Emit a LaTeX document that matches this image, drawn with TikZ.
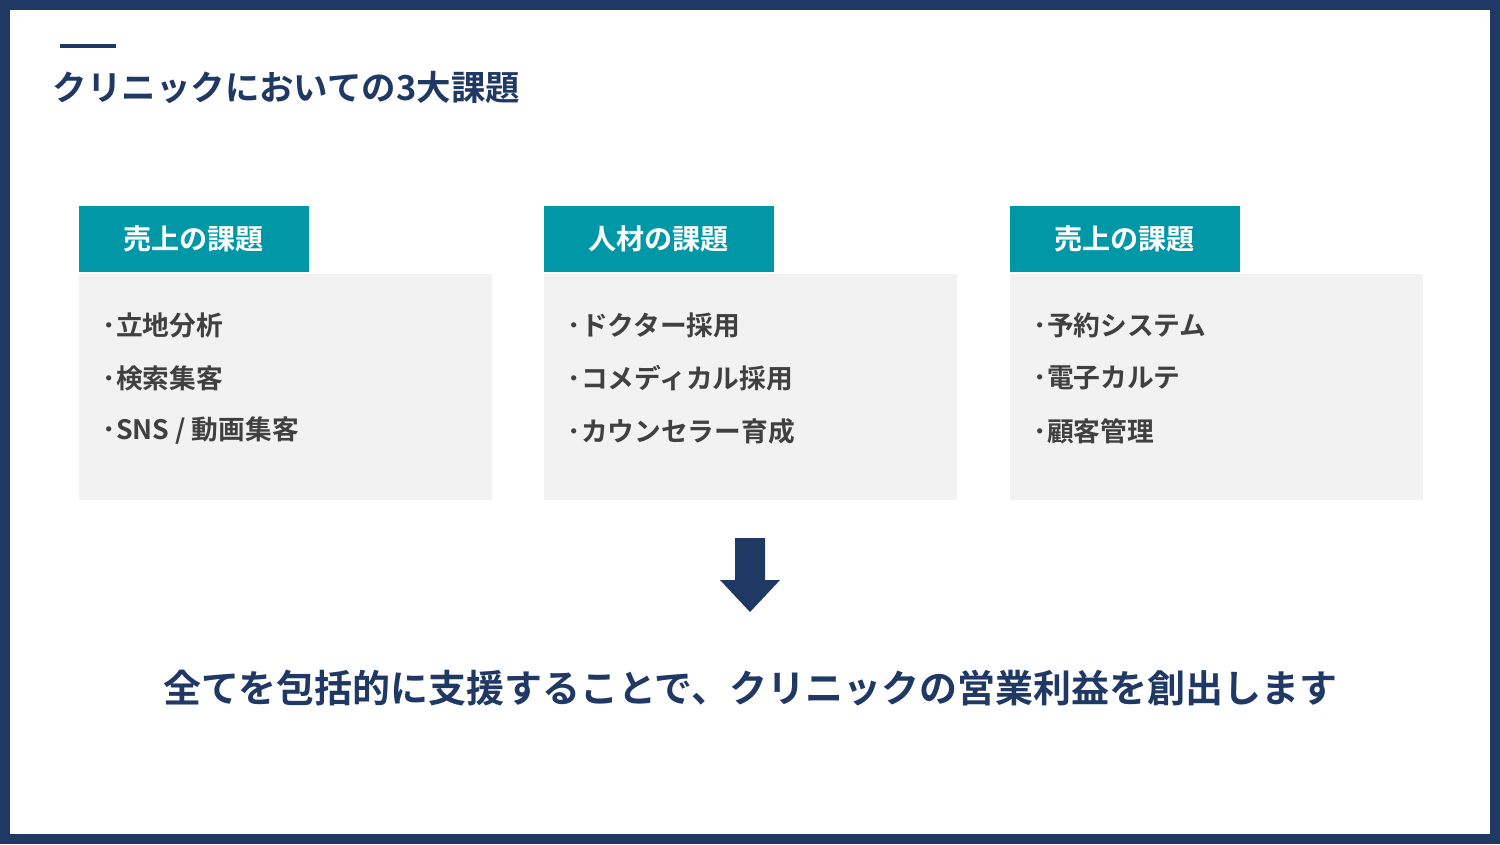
\documentclass[tikz,border=0pt]{standalone}
\usepackage{fontspec}
\newfontfamily\jpfont{Noto Sans CJK JP Bold}
\usetikzlibrary{positioning}
\definecolor{navy}{HTML}{1F3864}
\definecolor{teal}{HTML}{0097A7}
\definecolor{panelgray}{HTML}{F2F2F2}
\definecolor{itemgray}{HTML}{404040}
\begin{document}
\begin{tikzpicture}[
        x=0.01cm, y=-0.01cm,
        font=\jpfont,
        header/.style={fill=teal, text=white, minimum width=2.3cm, minimum height=0.66cm, inner sep=0pt, font=\jpfont\fontsize{8}{9}\selectfont},
        panel/.style={fill=panelgray, minimum width=4.13cm, minimum height=2.26cm, inner sep=0pt},
        item/.style={text=itemgray, anchor=west, inner sep=0pt, font=\jpfont\fontsize{7.6}{9}\selectfont},
    ]
    % frame
    \fill[navy] (0,0) rectangle (1500,844);
    \fill[white] (10,10) rectangle (1490,834);
    % title
    \draw[navy, line width=1.2pt] (60,46) -- (116,46);
    \node[anchor=west, text=navy, inner sep=0pt, font=\jpfont\fontsize{9.8}{12}\selectfont] (title) at (52,88) {クリニックにおいての3大課題};
    % panels
    \foreach \x/\head/\a/\b/\c [count=\i] in {78/売上の課題/立地分析/検索集客/{SNS {/} 動画集客},
        543/人材の課題/ドクター採用/コメディカル採用/カウンセラー育成,
        1009/売上の課題/予約システム/電子カルテ/顧客管理} {
        \node[panel, anchor=north west] (panel\i) at (\x,273) {};
        \node[header, anchor=south west] (head\i) at (panel\i.north west) {\head};
        \node[item] (itemA\i) at (\x+24,325) {･\a};
        \node[item] (itemB\i) at (\x+24,378) {･\b};
        \node[item] (itemC\i) at (\x+24,431) {･\c};
    }
    % arrow
    \fill[navy] (735,538) -- (765,538) -- (765,580) -- (780,580) -- (750,612) -- (720,580) -- (735,580) -- cycle;
    % conclusion
    \node[text=navy, inner sep=0pt, font=\jpfont\fontsize{10.8}{12}\selectfont] (summary) at (750,688) {全てを包括的に支援することで、クリニックの営業利益を創出します};
\end{tikzpicture}
\end{document}
